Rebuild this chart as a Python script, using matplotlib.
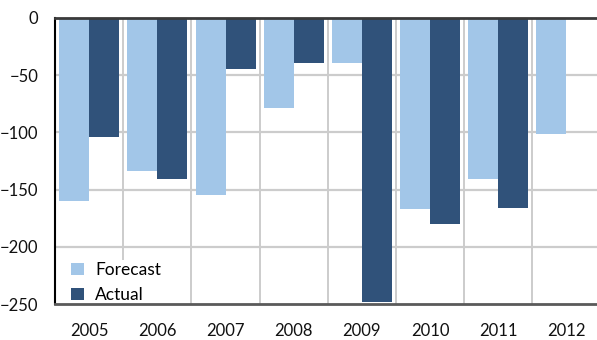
import matplotlib
matplotlib.use("Agg")
import matplotlib.pyplot as plt
import numpy as np

years = ["2005", "2006", "2007", "2008", "2009", "2010", "2011", "2012"]
forecast = [-160, -134, -155, -79, -39, -167, -141, -101]
actual = [-104, -141, -45, -39, -248, -180, -166, np.nan]

light_blue = "#A2C6E8"
dark_blue = "#30527A"

plt.rcParams["font.family"] = ["Lato", "DejaVu Sans"]

fig = plt.figure(figsize=(5.97, 3.40), dpi=100)
ax = fig.add_axes([55.1 / 597, 36 / 340, 545.4 / 597, 286 / 340])

x = np.arange(len(years))
w = 0.44
ax.bar(x - w / 2, forecast, width=w, color=light_blue, label="Forecast", zorder=2)
ax.bar(x + w / 2, actual, width=w, color=dark_blue, label="Actual", zorder=2)

ax.set_xlim(-0.5, len(years) - 0.5)
ax.set_ylim(-250, 0)
ax.set_yticks([0, -50, -100, -150, -200, -250])
ax.set_xticks(x)
ax.set_xticklabels(years)

# category separators and value gridlines
for b in np.arange(0.5, len(years) - 0.5, 1.0):
    ax.axvline(b, color="#c8c8c8", lw=1.3, zorder=1)
for v in [-50, -100, -150, -200]:
    ax.axhline(v, color="#cccccc", lw=1.6, zorder=1)

ax.tick_params(axis="both", length=0, labelsize=12, colors="#111111")
ax.tick_params(axis="y", pad=12)
ax.tick_params(axis="x", pad=14)

ax.spines["right"].set_visible(False)
ax.spines["top"].set_color("#3a3a3a")
ax.spines["top"].set_linewidth(2.0)
ax.spines["top"].set_zorder(5)
ax.spines["bottom"].set_color("#5a5a5a")
ax.spines["bottom"].set_linewidth(2.0)
ax.spines["bottom"].set_zorder(5)
ax.spines["left"].set_color("#000000")
ax.spines["left"].set_linewidth(1.5)
ax.spines["left"].set_zorder(5)

leg = ax.legend(loc="lower left", bbox_to_anchor=(0.022, -0.011), frameon=True,
                fontsize=12.5, handlelength=0.72, handleheight=0.72,
                handletextpad=0.65, labelspacing=0.5, borderaxespad=0.1,
                borderpad=0.15, fancybox=False)
leg.get_frame().set_facecolor("white")
leg.get_frame().set_edgecolor("none")
leg.get_frame().set_alpha(1.0)
leg.set_zorder(4)

fig.savefig("out.png", dpi=100)
